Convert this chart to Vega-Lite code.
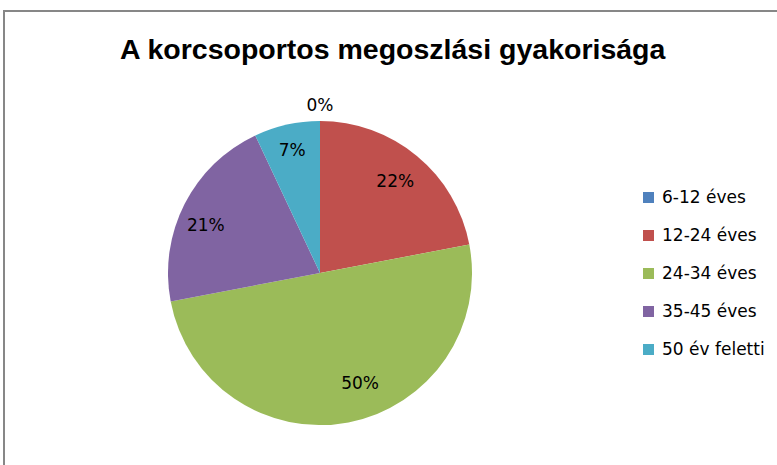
{
  "$schema": "https://vega.github.io/schema/vega-lite/v6.json",
  "width": 780,
  "height": 458,
  "padding": {"left": 4, "top": 11, "right": 0, "bottom": 0},
  "autosize": {"type": "none"},
  "background": "white",
  "view": {"stroke": "#878787", "strokeWidth": 2},
  "title": {
    "text": "A korcsoportos megoszlási gyakorisága",
    "font": "Liberation Sans",
    "fontSize": 28.5,
    "fontWeight": "bold",
    "color": "#000000",
    "anchor": "start",
    "frame": "group",
    "offset": -53,
    "dx": 116
  },
  "data": {
    "values": [
      {"idx": 1, "group": "6-12 éves", "pct": 0, "label": "0%"},
      {"idx": 2, "group": "12-24 éves", "pct": 22, "label": "22%"},
      {"idx": 3, "group": "24-34 éves", "pct": 50, "label": "50%"},
      {"idx": 4, "group": "35-45 éves", "pct": 21, "label": "21%"},
      {"idx": 5, "group": "50 év feletti", "pct": 7, "label": "7%"}
    ]
  },
  "encoding": {
    "theta": {"field": "pct", "type": "quantitative", "stack": true},
    "order": {"field": "idx", "type": "quantitative"}
  },
  "layer": [
    {
      "mark": {"type": "arc", "outerRadius": 152, "xOffset": -74, "yOffset": 33},
      "encoding": {
        "color": {
          "field": "group",
          "type": "nominal",
          "sort": null,
          "scale": {
            "domain": ["6-12 éves", "12-24 éves", "24-34 éves", "35-45 éves", "50 év feletti"],
            "range": ["#4F81BD", "#C0504D", "#9BBB59", "#8064A2", "#4BACC6"]
          },
          "legend": {
            "title": null,
            "orient": "none",
            "legendX": 636,
            "legendY": 178,
            "symbolType": "square",
            "symbolSize": 121,
            "symbolStrokeWidth": 0,
            "labelFont": "DejaVu Sans",
            "labelFontSize": 17,
            "labelColor": "#000000",
            "rowPadding": 20,
            "labelOffset": 5
          }
        }
      }
    },
    {
      "mark": {"type": "text", "radius": 118, "xOffset": -74, "yOffset": 33, "font": "DejaVu Sans", "fontSize": 17, "color": "#000000"},
      "encoding": {"text": {"condition": {"test": "datum.group == '12-24 éves'", "field": "label"}, "value": ""}}
    },
    {
      "mark": {"type": "text", "radius": 118, "xOffset": -74, "yOffset": 33, "dx": 18, "dy": -5, "font": "DejaVu Sans", "fontSize": 17, "color": "#000000"},
      "encoding": {"text": {"condition": {"test": "datum.group == '24-34 éves'", "field": "label"}, "value": ""}}
    },
    {
      "mark": {"type": "text", "radius": 118, "xOffset": -74, "yOffset": 33, "dx": -9, "dy": 7, "font": "DejaVu Sans", "fontSize": 17, "color": "#000000"},
      "encoding": {"text": {"condition": {"test": "datum.group == '35-45 éves'", "field": "label"}, "value": ""}}
    },
    {
      "mark": {"type": "text", "radius": 118, "xOffset": -74, "yOffset": 33, "dx": -2, "dy": -7, "font": "DejaVu Sans", "fontSize": 17, "color": "#000000"},
      "encoding": {"text": {"condition": {"test": "datum.group == '50 év feletti'", "field": "label"}, "value": ""}}
    },
    {
      "mark": {"type": "text", "radius": 167, "xOffset": -74, "yOffset": 33, "font": "DejaVu Sans", "fontSize": 17, "color": "#000000"},
      "encoding": {"text": {"condition": {"test": "datum.group == '6-12 éves'", "field": "label"}, "value": ""}}
    }
  ]
}
